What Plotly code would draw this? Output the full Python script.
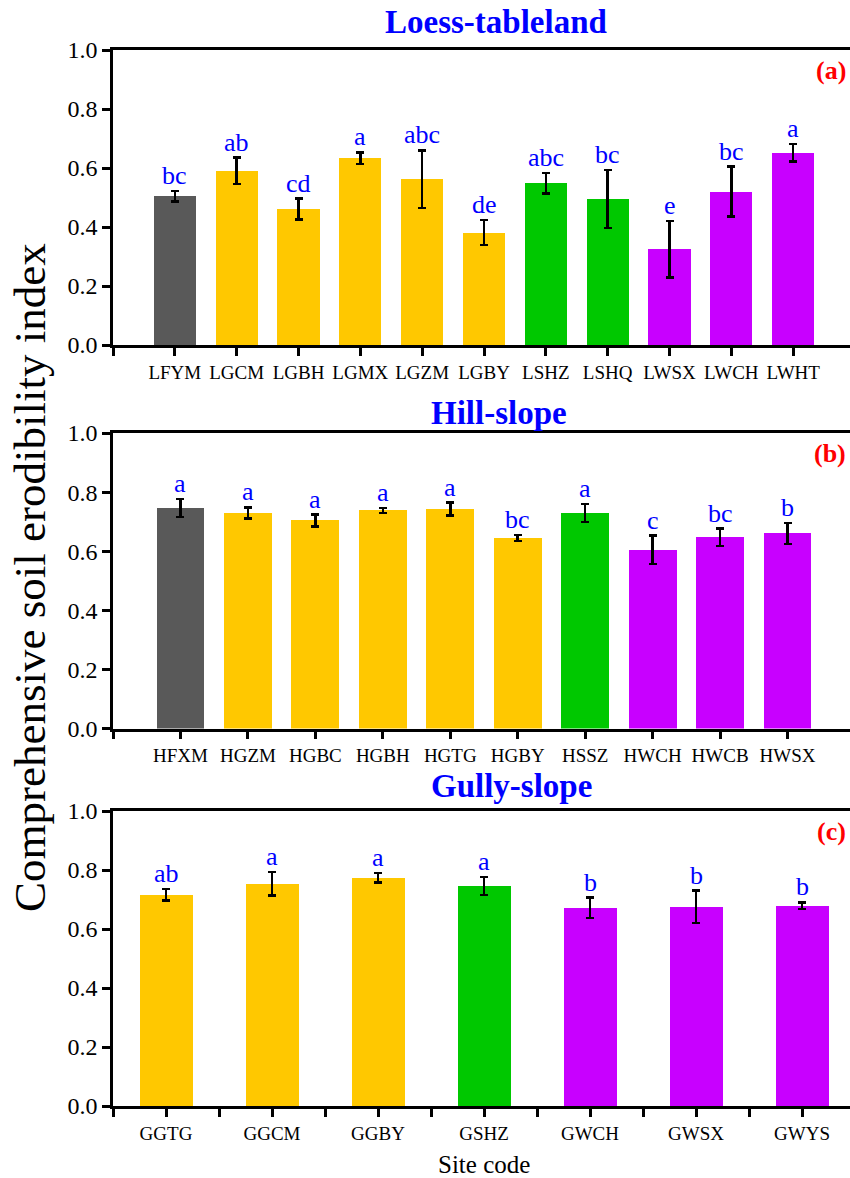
import plotly.graph_objects as go

FONT = "Liberation Serif"

# ---- data -------------------------------------------------------------
loess_sites = ["LFYM", "LGCM", "LGBH", "LGMX", "LGZM", "LGBY", "LSHZ", "LSHQ", "LWSX", "LWCH", "LWHT"]
loess_mean = [0.504, 0.590, 0.461, 0.633, 0.562, 0.381, 0.548, 0.495, 0.325, 0.520, 0.652]
loess_err = [0.018, 0.045, 0.035, 0.020, 0.098, 0.042, 0.035, 0.098, 0.096, 0.085, 0.030]
loess_letters = ["bc", "ab", "cd", "a", "abc", "de", "abc", "bc", "e", "bc", "a"]

hill_sites = ["HFXM", "HGZM", "HGBC", "HGBH", "HGTG", "HGBY", "HSSZ", "HWCH", "HWCB", "HWSX"]
hill_mean = [0.746, 0.729, 0.704, 0.738, 0.742, 0.645, 0.729, 0.605, 0.647, 0.660]
hill_err = [0.031, 0.019, 0.020, 0.008, 0.022, 0.010, 0.030, 0.048, 0.029, 0.036]
hill_letters = ["a", "a", "a", "a", "a", "bc", "a", "c", "bc", "b"]

gully_sites = ["GGTG", "GGCM", "GGBY", "GSHZ", "GWCH", "GWSX", "GWYS"]
gully_mean = [0.716, 0.754, 0.773, 0.746, 0.672, 0.675, 0.679]
gully_err = [0.020, 0.040, 0.016, 0.030, 0.034, 0.055, 0.011]
gully_letters = ["ab", "a", "a", "a", "b", "b", "b"]

y_ticks = [0.0, 0.2, 0.4, 0.6, 0.8, 1.0]

# land-use type is the second character of the site code
type_colors = {"F": "#595959", "G": "#FFC800", "S": "#00C800", "W": "#C800FF"}

W, H = 850, 1178
X_LEFT = 113  # px, left edge of the plotting areas


def py(px):
    """Paper y fraction for a vertical pixel position measured from the top."""
    return 1 - px / H


panels = [
    dict(sites=loess_sites, mean=loess_mean, err=loess_err, letters=loess_letters,
         title="Loess-tableland", tag="(a)", top=50, bottom=345, x0=-1.0, bw=0.68,
         step=1.0, tx=496, ty=22),
    dict(sites=hill_sites, mean=hill_mean, err=hill_err, letters=hill_letters,
         title="Hill-slope", tag="(b)", top=433, bottom=728.5, x0=-1.0, bw=0.71,
         step=1.0, tx=499, ty=413),
    dict(sites=gully_sites, mean=gully_mean, err=gully_err, letters=gully_letters,
         title="Gully-slope", tag="(c)", top=811, bottom=1106, x0=-0.5, bw=0.50,
         step=0.5, tx=511, ty=786),
]

fig = go.Figure()
annotations = []
layout_axes = {}

for k, p in enumerate(panels, start=1):
    n = len(p["sites"])
    xs = list(range(n))
    sfx = "" if k == 1 else str(k)
    xa, ya = "x" + sfx, "y" + sfx

    fig.add_trace(go.Bar(
        x=xs, y=p["mean"], width=p["bw"],
        marker=dict(color=[type_colors[s[1]] for s in p["sites"]], line=dict(width=0)),
        error_y=dict(type="data", array=p["err"], visible=True,
                     color="black", thickness=2.5, width=4),
        xaxis=xa, yaxis=ya, showlegend=False,
    ))

    # x range: the frame runs a few px beyond the page on the right
    x1_full = p["x0"] + (n + 1 if p["x0"] == -1.0 else n)
    px_per_unit = (855 - X_LEFT) / (x1_full - p["x0"])
    x1 = x1_full - 5 / px_per_unit

    tickvals, ticktext = [], []
    v = p["x0"]
    while v <= x1 + 1e-9:
        tickvals.append(v)
        if abs(v - round(v)) < 1e-9 and 0 <= round(v) < n:
            ticktext.append(p["sites"][int(round(v))])
        else:
            ticktext.append("")
        v += p["step"]

    dom_y = [py(p["bottom"]), py(p["top"])]
    axis_common = dict(showline=True, linecolor="black", linewidth=2.5,
                       ticks="outside", ticklen=8, tickwidth=2.5, tickcolor="black",
                       showgrid=False, zeroline=False)

    layout_axes["xaxis" + sfx] = dict(
        axis_common, domain=[X_LEFT / W, 1.0], range=[p["x0"], x1], anchor=ya,
        mirror=True, tickmode="array", tickvals=tickvals, ticktext=ticktext,
        tickfont=dict(family=FONT, size=19, color="black"),
    )
    layout_axes["yaxis" + sfx] = dict(
        axis_common, domain=dom_y, range=[0, 1.0], anchor=xa,
        tickmode="array", tickvals=y_ticks, ticktext=[f"{t:.1f}" for t in y_ticks],
        tickfont=dict(family=FONT, size=24, color="black"),
    )

    # significance letters above the error bars
    for i in xs:
        annotations.append(dict(
            x=i, y=p["mean"][i] + p["err"][i], xref=xa, yref=ya,
            text=p["letters"][i], showarrow=False, yanchor="bottom", yshift=-1,
            font=dict(family=FONT, size=26, color="#0000FF"),
        ))

    # panel title
    annotations.append(dict(
        x=p["tx"] / W, y=py(p["ty"]), xref="paper", yref="paper",
        text=f"<b>{p['title']}</b>", showarrow=False, xanchor="center", yanchor="middle",
        font=dict(family=FONT, size=33, color="#0000FF"),
    ))
    # panel tag
    annotations.append(dict(
        x=848 / W, y=dom_y[1], xref="paper", yref="paper",
        text=f"<b>{p['tag']}</b>", showarrow=False, xanchor="right", yanchor="top",
        yshift=-4, font=dict(family=FONT, size=26, color="#FF0000"),
    ))

# shared axis titles
annotations.append(dict(
    x=30 / W, y=py(578), xref="paper", yref="paper", textangle=-90,
    text="Comprehensive soil erodibility index", showarrow=False,
    xanchor="center", yanchor="middle",
    font=dict(family=FONT, size=45, color="black"),
))
annotations.append(dict(
    x=484 / W, y=py(1164), xref="paper", yref="paper",
    text="Site code", showarrow=False, xanchor="center", yanchor="middle",
    font=dict(family=FONT, size=25, color="black"),
))

fig.update_layout(
    width=W, height=H,
    margin=dict(l=0, r=0, t=0, b=0, autoexpand=False),
    paper_bgcolor="white", plot_bgcolor="white",
    annotations=annotations,
    bargap=0,
    **layout_axes,
)

fig.write_html("out.html")
